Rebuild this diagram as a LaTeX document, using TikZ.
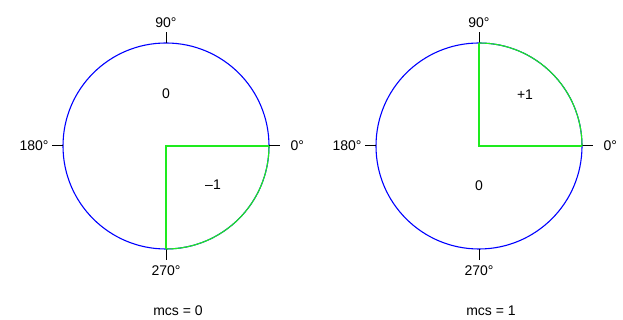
\documentclass[tikz,border=0pt]{standalone}
\usepackage{fontspec}
\setmainfont{Liberation Sans}
\definecolor{ringblue}{RGB}{0,0,255}
\definecolor{quadgreen}{RGB}{30,235,30}
\begin{document}
\begin{tikzpicture}[x=1pt, y=1pt, line width=1pt]
    \tikzset{
        lbl/.style={font=\fontsize{14}{16}\selectfont, inner sep=0pt},
        ring/.style={ringblue, line width=1.1pt},
        quad/.style={quadgreen, line width=1.6pt},
        quadarc/.style={quadgreen, line width=1.1pt},
        tick/.style={black, line width=1pt}
    }
    \useasboundingbox (0,0) rectangle (623,320);
    % two dials
    \foreach \d/\xc/\mcs in {L/166/0, R/479/1} {
        \coordinate (c\d) at (\xc,174);
        \coordinate (e\d) at (\xc+103,174);
        \coordinate (n\d) at (\xc,277);
        \coordinate (w\d) at (\xc-103,174);
        \coordinate (s\d) at (\xc,71);
        \draw[ring] (c\d) circle (103);
        \draw[tick] (e\d) -- ++(11,0) coordinate (te\d);
        \draw[tick] (n\d) -- ++(0,11) coordinate (tn\d);
        \draw[tick] (w\d) -- ++(-11,0) coordinate (tw\d);
        \draw[tick] (s\d) -- ++(0,-11) coordinate (ts\d);
        \node[lbl, right=10pt] (l0\d) at (te\d) {0°};
        \node[lbl, above=4pt] (l90\d) at (tn\d) {90°};
        \node[lbl, left=3pt] (l180\d) at (tw\d) {180°};
        \node[lbl, below=5pt] (l270\d) at (ts\d) {270°};
        \node[lbl] (mcs\d) at (\xc+12,9) {mcs = \mcs};
    }
    % sign regions
    \draw[quadarc] (sL) arc (270:360:103);
    \draw[quad] (sL) -- (cL) -- (eL);
    \draw[quadarc] (eR) arc (0:90:103);
    \draw[quad] (nR) -- (cR) -- (eR);
    \node[lbl] (zL) at (166,226) {0};
    \node[lbl] (mL) at (213,135) {–1};
    \node[lbl] (pR) at (525,225) {+1};
    \node[lbl] (zR) at (479,134) {0};
\end{tikzpicture}
\end{document}
